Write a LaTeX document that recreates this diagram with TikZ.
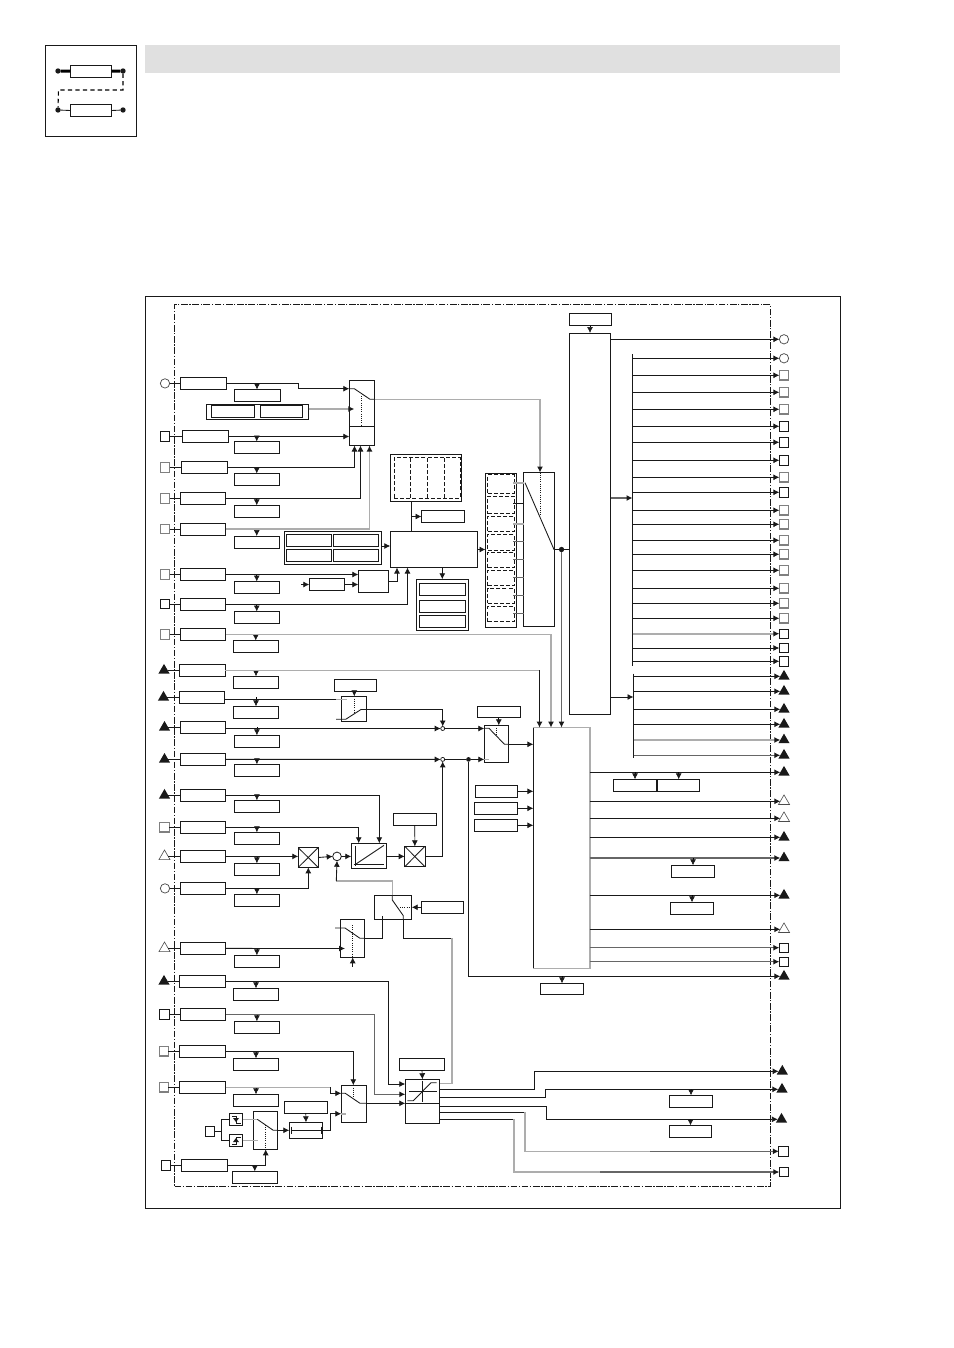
\documentclass[tikz,border=0pt]{standalone}
\usepackage{xcolor}
\usepackage{tikz}
\usetikzlibrary{arrows.meta,shapes.geometric,fit}

\tikzset{
    blk/.style={draw=black!90,line width=.7pt,inner sep=0pt,outer sep=0pt},
    dcell/.style={dashed,dash pattern=on 3pt off 1.6pt,line width=.55pt},
    wire/.style={draw=black!90,line width=.65pt},
    greywire/.style={draw=black!32,line width=1.2pt},
    darkwire/.style={draw=black!60,line width=.85pt},
    tip/.style={-{Latex[length=4.5pt,width=4.5pt,black!90]}},
    pinsq/.style={draw=black!90,line width=.7pt,minimum size=7pt,inner sep=0pt,outer sep=0pt},
    pinsqg/.style={draw=black!50,line width=.8pt,minimum size=7pt,inner sep=0pt,outer sep=0pt},
    pincirc/.style={circle,draw=black!70,line width=.55pt,minimum size=7pt,inner sep=0pt,outer sep=0pt},
    trishape/.style={isosceles triangle,isosceles triangle apex angle=60,shape border rotate=90,minimum height=7.2pt,inner sep=0pt,outer sep=0pt},
    pintri/.style={trishape,fill=black!90},
    pinhol/.style={trishape,draw=black!70,line width=.45pt},
    sumc/.style={circle,draw=black!90,line width=.55pt,fill=white,minimum size=3pt,inner sep=0pt,outer sep=0pt},
    dotc/.style={circle,fill=black!90,minimum size=4pt,inner sep=0pt,outer sep=0pt}
}
\newcommand{\blk}[6][]{\node[blk,#1,fit={(#3,#4)(#5,#6)}] (#2) {};}

\begin{document}
\begin{tikzpicture}[x=.75pt,y=-.75pt]
    \useasboundingbox (0,0) rectangle (953,1348);

    % head band and symbol
    \node[fill=black!12,inner sep=0pt,fit={(145,45)(840,73)}] (band) {};
    \blk{icon}{45.5}{45.5}{136.5}{136.5}
    \blk{resa}{70.3}{65}{111.7}{77.3}
    \blk{resb}{70.3}{104.3}{111.7}{116.7}
    \node[dotc] (ia) at (58,71) {};
    \node[dotc] (ib) at (123,71) {};
    \node[dotc] (ic) at (58,110) {};
    \node[dotc] (id) at (123,110) {};
    \draw[draw=black,line width=2.2pt] (ia) -- (resa.west);
    \draw[draw=black,line width=2.2pt] (resa.east) -- (ib);
    \draw[wire] (ic) -- (resb.west);
    \draw[wire] (resb.east) -- (id);
    \draw[draw=black,line width=.8pt,dash pattern=on 3.2pt off 2.4pt] (ib) |- (58.5,90) -- (ic);

    % frame and dash-dotted limit
    \blk{frame}{145.5}{296.5}{840.5}{1208.5}
    \blk[dash pattern=on 5pt off 1.2pt on 1pt off 1.2pt,line width=.6pt]{limit}{174.5}{304.5}{770.5}{1186.5}

    % input rows: pin, box and the box below it
    \foreach \n/\ps/\tx/\xa/\ya/\xb/\yb/\sa/\sb/\sc/\sd in {
        1/pincirc/165/180.3/377.5/226.5/389.3/234/389.5/280/401.5,
        2/pinsq/165/182.5/430.5/228/442.5/234/441.5/279.5/453.5,
        3/pinsqg/165/181.3/461.5/227.5/473.5/234/473.5/279.5/485.5,
        4/pinsqg/165/180.3/492.3/225.5/504.5/234/505.3/279.5/517,
        5/pinsqg/165/180.3/523.3/225.5/535/234/536/279.5/548.5,
        6/pinsqg/165/180.3/568.5/225.5/580.5/234/581.5/279.5/593.5,
        7/pinsq/165/180.3/598.5/225.5/610/234/611.5/279.5/623.5,
        8/pinsqg/165/180.3/628.5/225.5/640.5/233/640.5/278.5/652.5,
        9/pintri/164/179.3/664.3/225.3/676.3/233.3/676.3/278.7/688.3,
        10/pintri/163.5/179.3/691.3/224.7/703.3/233.3/706.3/278.7/718,
        11/pintri/164.5/180.3/721.3/225.7/733.5/234.3/735.3/279.5/747.5,
        12/pintri/164.5/180.3/753.3/225.7/765.5/234.3/764.3/279.5/776.7,
        13/pintri/164.5/180.3/789.3/225.7/801.3/234.3/800.3/279.5/812.5,
        14/pinsqg/164.5/180.3/821.3/225.7/833.3/234.3/832.3/279.5/844.7,
        15/pinhol/164.5/180.3/850.3/225.7/862.5/234.3/863.3/279.5/875.5,
        16/pincirc/165/180.3/882.3/225.7/894.5/234.3/894.3/279.5/906.5,
        17/pinhol/164.5/180.3/942.3/225.7/954.5/234.3/955.3/279.5/967.3,
        18/pintri/164/179.3/975.3/225.7/987.3/233.3/988.3/278.7/1000.3,
        19/pinsq/164.3/180.3/1008.3/225.7/1020.3/234.3/1021.3/279.5/1033.3,
        20/pinsqg/163.7/179.3/1045.3/225.7/1057.3/233.3/1058.3/278.7/1070.3,
        21/pinsqg/163.7/179.3/1081.3/225.7/1093.3/233.3/1094.3/278.7/1106.3,
        22/pinsq/166/181.3/1159.3/227.3/1171.3/232.3/1171.3/277.3/1183.3}{
        \blk{b\n}{\xa}{\ya}{\xb}{\yb}
        \blk{s\n}{\sa}{\sb}{\sc}{\sd}
        \node[\ps] (p\n) at (\tx,0 |- b\n.west) {};
        \draw[wire] (p\n) -- (b\n.west);
        \draw[tip,line width=.5pt] (s\n.north |- b\n.east) -- (s\n.north);
    }

    % first selector
    \blk{dbl}{206.5}{404.5}{308.5}{419.5}
    \blk{dbla}{211.3}{405.5}{254.5}{417.5}
    \blk{dblb}{260.5}{405.5}{302.5}{417.5}
    \blk{swa}{349.3}{380.3}{374.5}{445.5}
    \coordinate (swaA) at (349.3,388.7);
    \coordinate (swaB) at (354.3,409);
    \coordinate (swaC) at (354.5,445.5);
    \coordinate (swaD) at (360.5,445.5);
    \coordinate (swaE) at (369.5,445.5);
    \draw[wire] (swa.west |- 0,426.5) -- (swa.east |- 0,426.5);
    \draw[wire] (swaA) -- (354.3,388.7) -- (370,399.3) -- (374.5,399.3);
    \draw[wire,densely dotted] (361.3,396) -- (361.3,426.5);
    \draw[wire,tip] (b1.east) -| (298,388.7) -- (swaA);
    \draw[greywire,tip] (dbl.east |- swaB) -- (swaB);
    \draw[wire,tip] (b2.east) -- (b2.east -| swa.west);
    \draw[wire,tip] (b3.east) -| (swaC);
    \draw[wire,tip] (b4.east) -| (swaD);
    \draw[greywire,tip] (b5.east) -| (swaE);

    % control block with its neighbours
    \blk{tbl}{390.3}{454.3}{461.5}{501.5}
    \blk[dcell]{tblin}{394}{457.5}{460}{498}
    \foreach \x in {410,427,444}{
        \draw[wire,dashed,dash pattern=on 3pt off 1.6pt,line width=.55pt] (\x,457.5) -- (\x,498);
    }
    \blk{ctl}{390.3}{531.5}{477.5}{567.5}
    \blk{note}{421.5}{510.5}{464.5}{522.5}
    \draw[wire] (tbl.south -| 411.7,0) -- (ctl.north -| 411.7,0);
    \draw[wire,tip] (411.7,516.5) -- (note.west);
    \blk{quad}{284.5}{531.5}{381.5}{564.5}
    \blk{quada}{286.5}{534}{331.5}{546}
    \blk{quadb}{333.5}{534}{378.5}{546}
    \blk{quadc}{286.5}{549}{331.5}{561}
    \blk{quadd}{333.5}{549}{378.5}{561}
    \draw[wire,tip] (quad.east |- 0,546) -- (ctl.west |- 0,546);
    \blk{tri}{416.3}{579.3}{468.5}{630.5}
    \blk{tria}{419.3}{583.3}{465.5}{595.5}
    \blk{trib}{419.3}{600.3}{465.5}{612.5}
    \blk{tric}{419.3}{615.3}{465.5}{627}
    \draw[wire,tip] (ctl.south -| 442.3,0) -- (tri.north -| 442.3,0);
    \blk{rate}{309.3}{578.5}{344.5}{590.5}
    \blk{gate}{358.3}{570.5}{388.5}{592.5}
    \coordinate (ratein) at (301,584.5);
    \coordinate (ctlA) at (397,567.5);
    \coordinate (ctlB) at (407.5,567.5);
    \draw[wire,tip] (ratein) -- (rate.west);
    \draw[wire,tip] (rate.east) -- (rate.east -| gate.west);
    \draw[wire,tip] (b6.east) -- (b6.east -| gate.west);
    \draw[wire,tip] (gate.east) -| (ctlA);
    \draw[wire,tip] (b7.east) -| (ctlB);

    % parameter list and second selector
    \blk{lst}{485.5}{473.5}{516.5}{627.5}
    \foreach \n/\ya/\yb in {1/474.5/493,2/496/513.5,3/516/531.7,4/534.3/550,5/552.3/567.7,6/570.3/585.7,7/588.3/603.3,8/606.3/621.7}{
        \blk[dcell]{c\n}{487.5}{\ya}{514}{\yb}
    }
    \draw[wire,tip] (ctl.east |- 0,549.5) -- (lst.west |- 0,549.5);
    \blk{sel}{523.5}{472.5}{554.5}{626.5}
    \foreach \y/\ws in {482.7/greywire,503.3/wire,524/greywire,541.7/darkwire,559.3/darkwire,577.3/darkwire,595.3/darkwire,613.3/darkwire}{
        \draw[\ws] (513,\y) -- (sel.west |- 0,\y);
    }
    \draw[wire] (525,482.7) -- (554,549.5) -- (sel.east |- 0,549.5);
    \draw[wire,densely dotted] (540,472.5) -- (540,515);
    \coordinate (selin) at (540,472.5);
    \draw[greywire,tip] (swa.east |- 0,399.3) -| (selin);

    % main column with output buses
    \blk{col}{569.5}{333}{610.5}{714.5}
    \blk{coltop}{569.5}{313}{611.5}{325.5}
    \draw[tip,line width=.5pt] (coltop.south -| col.north) -- (col.north);
    \node[dotc] (seldot) at (561.5,549.5) {};
    \draw[wire] (sel.east |- seldot) -- (seldot) -- (seldot -| col.west);
    \coordinate (busa) at (632.5,354);
    \coordinate (busaend) at (632.5,666);
    \coordinate (busb) at (633.5,673.5);
    \coordinate (busbend) at (633.5,757.5);
    \draw[wire] (busa) -- (busaend);
    \draw[wire] (busb) -- (busbend);
    \draw[darkwire,tip] (col.east |- 0,498) -- (busa |- 0,498);
    \draw[wire,tip] (col.east |- 0,697) -- (busb |- 0,697);
    \node[pincirc] (t0) at (784,339.3) {};
    \draw[wire,tip] (col.east |- t0) -- (t0.west);
    \foreach \n/\ty/\ps/\ws in {
        1/358.3/pincirc/wire,2/375.3/pinsqg/wire,3/392.3/pinsqg/wire,4/409.3/pinsqg/wire,
        5/426.3/pinsq/wire,6/442.3/pinsq/wire,7/460.3/pinsq/wire,8/477.3/pinsqg/wire,
        9/492.3/pinsq/wire,10/510.3/pinsqg/wire,11/524.3/pinsqg/wire,12/540.3/pinsqg/wire,
        13/554.3/pinsqg/wire,14/570.3/pinsqg/wire,15/588.3/pinsqg/wire,16/603.3/pinsqg/wire,
        17/618.3/pinsqg/wire,18/633.7/pinsq/greywire,19/648/pinsq/wire,20/661.3/pinsq/wire}{
        \node[\ps] (t\n) at (784,\ty) {};
        \draw[\ws,tip] (t\n -| busa) -- (t\n.west);
    }
    \foreach \n/\ty/\ws in {21/676.3/wire,22/691.3/wire,23/709.3/wire,24/724.3/wire,25/740/greywire,26/755.3/darkwire}{
        \node[pintri] (t\n) at (784,\ty) {};
        \draw[\ws,tip] (t\n -| busb) -- (t\n.west);
    }

    % central regulator block
    \blk{reg}{533.4}{727.6}{589.7}{968.3}
    \draw[greywire] (reg.north west) -- (reg.north east) -- (reg.south east) -- (reg.south west);
    \coordinate (regA) at (539.5,727.6);
    \coordinate (regB) at (551,727.6);
    \draw[greywire,tip] (b8.east) -| (regB);
    \draw[greywire] (b9.east) -- (b9.east -| regA);
    \draw[wire,tip] (b9.east -| regA) -- (regA);
    \draw[darkwire,tip] (seldot) -- (seldot |- reg.north);
    \blk{rega}{475.3}{785.3}{517.7}{797.3}
    \blk{regb}{474.3}{802.3}{517.7}{814.3}
    \blk{regc}{474.3}{819.3}{517.7}{831.3}
    \foreach \n in {a,b,c}{
        \draw[wire,tip] (reg\n.east) -- (reg\n.east -| reg.west);
    }
    \foreach \n/\ty/\ps/\ws in {
        27/772.3/pintri/wire,28/801.3/pinhol/wire,29/818.3/pinhol/wire,30/837.3/pintri/wire,
        31/858/pintri/darkwire,32/895.3/pintri/wire,33/929.3/pinhol/wire,
        34/947.7/pinsq/darkwire,35/961.7/pinsq/darkwire}{
        \node[\ps] (t\n) at (784,\ty) {};
        \draw[\ws,tip] (t\n -| reg.east) -- (t\n.west);
    }
    \blk{ga}{613.3}{779.3}{656.7}{791.3}
    \blk{gb}{657.7}{779.3}{699.7}{791.3}
    \draw[tip,line width=.5pt] (ga.north |- t27) -- (ga.north);
    \draw[tip,line width=.5pt] (gb.north |- t27) -- (gb.north);
    \blk{gc}{671.3}{865.3}{714.7}{877.3}
    \draw[tip,line width=.5pt] (gc.north |- t31) -- (gc.north);
    \blk{gd}{670.3}{902.3}{713.7}{914.3}
    \draw[tip,line width=.5pt] (gd.north |- t32) -- (gd.north);

    % second switch on the summing lines
    \blk{swb}{484.3}{725.3}{508.4}{762}
    \blk{swbtop}{477.3}{706.7}{520.3}{717.7}
    \draw[tip,line width=.5pt] (swbtop.south) -- (swb.north -| swbtop.south);
    \draw[wire] (swb.west |- 0,728.3) -- (489,728.3) -- (504.5,744.3) -- (swb.east |- 0,744.3);
    \draw[wire,densely dotted] (496.3,725.3) -- (496.3,736);
    \draw[greywire] (484.3,759.3) -- (489,759.3);
    \draw[wire,tip] (swb.east |- 0,744.3) -- (reg.west |- 0,744.3);

    % ramp with its limit box
    \blk{rmp}{341.3}{696.3}{366.7}{721.7}
    \blk{rmptop}{334.3}{679}{376.7}{691.7}
    \draw[tip,line width=.5pt] (rmptop.south -| 354.3,0) -- (rmp.north -| 354.3,0);
    \draw[wire] (336,719.3) -- (345.7,719.3) -- (361.3,709.3);
    \draw[wire,densely dotted] (354.3,696.3) -- (354.3,712);
    \draw[wire] (b10.east |- 0,699.3) -- (336,699.3);
    \draw[greywire] (336,699.3) -- (346.7,699.3);
    \node[sumc] (suma) at (442.7,728.5) {};
    \node[sumc] (sumb) at (442.7,759.4) {};
    \draw[wire,tip] (361.3,709.3) -| (suma.north);
    \draw[wire,tip] (b11.east |- suma) -- (suma.west);
    \draw[wire,tip] (suma.east) -- (suma.east -| swb.west);
    \draw[wire,tip] (b12.east) -- (sumb.west);
    \node[dotc,minimum size=3.5pt] (fbdot) at (468.5,759.4) {};
    \draw[wire] (sumb.east) -- (fbdot);
    \draw[wire,tip] (fbdot) -- (fbdot -| swb.west);
    \node[pintri] (t36) at (784,976.3) {};
    \draw[wire,tip] (fbdot) |- (t36.west);
    \blk{ge}{540.3}{983.3}{583.7}{994.7}
    \draw[tip,line width=.5pt] (ge.north |- t36) -- (ge.north);

    % multiplier chain
    \blk{mula}{298.3}{847.7}{318}{867.3}
    \draw[wire] (mula.north west) -- (mula.south east);
    \draw[wire] (mula.north east) -- (mula.south west);
    \node[circle,draw=black!90,line width=.6pt,minimum size=6.5pt,inner sep=0pt,outer sep=0pt] (sumc) at (337,856.4) {};
    \blk{lin}{351.3}{843.3}{386.7}{868.3}
    \draw[wire] (355.5,846) -- (355.5,866);
    \draw[wire] (353.5,864.3) -- (384,864.3);
    \draw[wire] (355.5,864.3) -- (384,845.3);
    \blk{mulb}{404.7}{846.3}{425}{866.7}
    \draw[wire] (mulb.north west) -- (mulb.south east);
    \draw[wire] (mulb.north east) -- (mulb.south west);
    \blk{mulbtop}{393.3}{813.3}{436.3}{825.3}
    \coordinate (linA) at (379.3,843.3);
    \coordinate (linB) at (358.7,843.3);
    \coordinate (mulaB) at (308.3,867.3);
    \draw[wire,tip] (b13.east) -| (linA);
    \draw[wire,tip] (b14.east) -| (linB);
    \draw[wire,tip] (b15.east) -- (b15.east -| mula.west);
    \draw[wire,tip] (b16.east) -| (mulaB);
    \draw[wire,tip] (mula.east) -- (sumc.west);
    \draw[wire,tip] (sumc.east) -- (lin.west |- sumc);
    \draw[wire,tip] (lin.east |- sumc) -- (mulb.west |- sumc);
    \draw[tip,line width=.5pt] (mulbtop.south) -- (mulb.north);
    \draw[wire,tip] (mulb.east) -| (sumb.south);

    % feedback changeover
    \blk{swc}{374.3}{895.3}{411.7}{919.3}
    \blk{swctag}{421.3}{901.3}{463.3}{913.3}
    \draw[wire,tip] (swctag.west) -- (swc.east |- swctag.west);
    \draw[wire,densely dotted] (400,907.3) -- (411.7,907.3);
    \draw[wire] (392.3,895.3) -- (392.3,900) -- (403.3,915.7) -- (403.3,919.3);
    \draw[greywire] (392.3,895.3) -- (392.3,881) -- (336.3,881);
    \draw[wire,tip] (336.3,881) -- (sumc.south);
    \blk{swd}{340.3}{919.3}{364.7}{957.3}
    \draw[wire] (335,928) -- (345,928) -- (360,938.3) -- (swd.east |- 0,938.3);
    \draw[wire,densely dotted] (352.7,925) -- (352.7,957.3);
    \coordinate (swdin) at (352.7,966.7);
    \draw[wire,tip] (swdin) -- (swd.south -| swdin);
    \draw[wire,tip] (b17.east) -- (345,948.5);
    \draw[wire] (swd.east |- 0,938.3) -| (382.3,915.7);

    % limiter and its outputs
    \blk{lim}{405.3}{1079.3}{439.7}{1123.3}
    \blk{limtop}{399.3}{1058.3}{444.7}{1070.3}
    \draw[tip,line width=.5pt] (limtop.south) -- (lim.north);
    \draw[wire] (lim.west |- 0,1103.3) -- (lim.east |- 0,1103.3);
    \draw[wire] (422.3,1080.7) -- (422.3,1102);
    \draw[wire] (409.3,1091.3) -- (436.7,1091.3);
    \draw[wire] (407.3,1100.7) -- (413.3,1100.7) -- (431,1082.7) -- (436.7,1082.7);
    \draw[wire] (403.3,919.3) -- (403.3,938.3) -- (452,938.3);
    \draw[greywire] (452,938.3) |- (lim.east |- 0,1083.3);
    \coordinate (limA) at (405.3,1084);
    \coordinate (limB) at (405.3,1094.3);
    \coordinate (limC) at (405.3,1103.3);
    \draw[wire,tip] (b18.east) -- (388.7,981.3) |- (limA);
    \draw[darkwire,tip] (b19.east) -- (374.3,1014.3) |- (limB);
    \foreach \n/\ty/\ps/\tx in {37/1071.3/pintri/782.3,38/1089.3/pintri/782,39/1119.3/pintri/781.5,40/1151.3/pinsq/783.5,41/1172/pinsq/784}{
        \node[\ps] (t\n) at (\tx,\ty) {};
    }
    \draw[wire,tip] (lim.east |- 0,1089.3) -| (534.3,1071.3) -- (t37.west);
    \draw[wire,tip] (lim.east |- 0,1097.3) -| (545.3,1089.3) -- (t38.west);
    \draw[wire,tip] (lim.east |- 0,1106.3) -| (546.3,1119.3) -- (t39.west);
    \draw[wire] (lim.east |- 0,1112.3) -- (525,1112.3);
    \draw[greywire] (525,1112.3) |- (650,1151.3);
    \draw[darkwire,tip] (650,1151.3) -- (t40.west);
    \draw[wire] (lim.east |- 0,1119.3) -- (514,1119.3);
    \draw[greywire] (514,1119.3) |- (600,1172);
    \draw[darkwire,tip] (600,1172) -- (t41.west);
    \blk{gf}{669.3}{1095.3}{712.7}{1107.7}
    \draw[tip,line width=.5pt] (gf.north |- t38) -- (gf.north);
    \blk{gg}{669.3}{1125.3}{711.7}{1137.3}
    \draw[tip,line width=.5pt] (gg.north |- t39) -- (gg.north);

    % third switch with ramp source
    \blk{swe}{341.3}{1085.3}{366.7}{1122.3}
    \coordinate (sweA) at (353.3,1085.3);
    \coordinate (sweB) at (341.3,1093.3);
    \coordinate (sweC) at (341.3,1113.7);
    \draw[wire,tip] (b20.east) -| (sweA);
    \draw[greywire] (b21.east) -- (330.3,1087.3);
    \draw[wire,tip] (330.3,1087.3) |- (sweB);
    \draw[wire] (sweB) -- (345.3,1093.3) -- (360,1103.3) -- (swe.east |- limC);
    \draw[wire,densely dotted] (353.3,1085.3) -- (353.3,1098);
    \draw[wire,tip] (swe.east |- limC) -- (limC);
    \draw[greywire] (341.3,1113.7) -- (346,1113.7);

    % edge pulse source and hold block
    \blk{edga}{229.3}{1113.3}{242.7}{1125.3}
    \blk{edgb}{229.3}{1134.3}{242.7}{1146.3}
    \node[pinsq] (edgq) at (210,1131.3) {};
    \coordinate (edgj) at (221.3,1131.3);
    \draw[wire] (edgq) -- (edgj);
    \draw[wire] (edga.west) -- (edga.west -| edgj) -- (edgb.west -| edgj) -- (edgb.west);
    \draw[wire,line width=.55pt] (232,1116) -- (236,1116) -- (236,1123) -- (241,1123);
    \draw[wire,line width=.55pt] (232,1144) -- (236,1144) -- (236,1137) -- (241,1137);
    \fill[black!90] (233,1118) -- (239,1118) -- (236,1122) -- cycle;
    \fill[black!90] (233,1142) -- (239,1142) -- (236,1138) -- cycle;
    \blk{swf}{253.3}{1111.3}{277.3}{1149.3}
    \draw[greywire] (edga.east) -- (257.3,1119.3);
    \draw[greywire] (edgb.east) -- (258,1140.3);
    \draw[wire] (257.3,1119.3) -- (273.3,1130.3) -- (swf.east |- 0,1130.3);
    \draw[wire,densely dotted] (265.7,1125) -- (265.7,1149.3);
    \coordinate (swfin) at (265.7,1149.3);
    \draw[wire,tip] (b22.east) -| (swfin);
    \blk{hld}{289.3}{1122.3}{322.7}{1138.3}
    \blk{hldtop}{284.3}{1101.3}{327.3}{1113.3}
    \draw[tip,line width=.5pt] (hldtop.south) -- (hld.north);
    \draw[wire] (291.7,1130.3) -- (321,1130.3);
    \draw[wire] (291.7,1126.5) -- (291.7,1134);
    \draw[wire] (321,1126.5) -- (321,1134);
    \draw[wire,tip] (swf.east |- hld.west) -- (hld.west);
    \draw[wire,tip] (hld.east) -- (330.3,1130.3) |- (sweC);
\end{tikzpicture}
\end{document}
